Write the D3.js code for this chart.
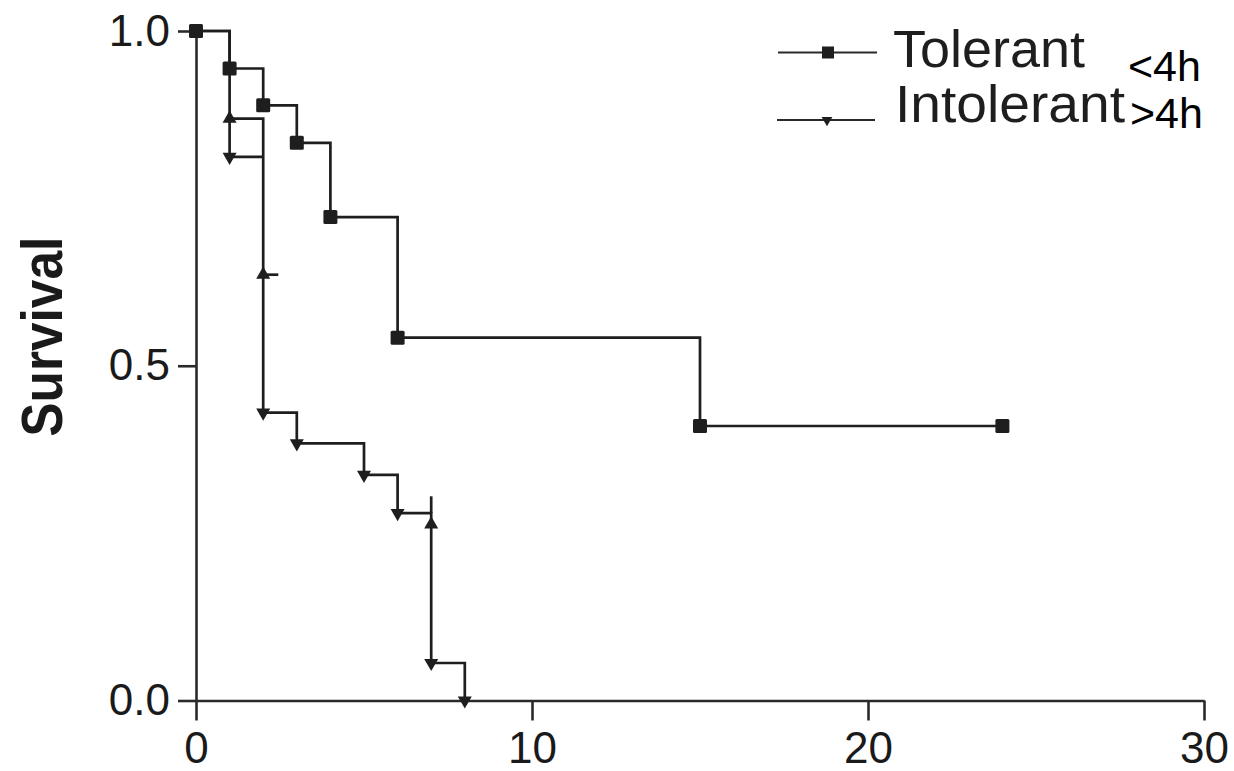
<!DOCTYPE html>
<html>
<head>
<meta charset="utf-8">
<script src="https://cdn.jsdelivr.net/npm/d3@7/dist/d3.min.js"></script>
<style>
  html, body { margin: 0; padding: 0; background: #fff; }
  svg { display: block; }
</style>
</head>
<body>
<svg id="chart" width="1234" height="771"></svg>
<script>
// ---- data ----
const xTicks = [0, 10, 20, 30];
const yTicks = [0.0, 0.5, 1.0];

const tolerantTime = [0, 1, 2, 3, 4, 6, 15, 24];
const tolerantSurv = [1.0, 0.944, 0.889, 0.833, 0.722, 0.542, 0.41, 0.41];

const intolerantTime = [0, 1, 2, 3, 5, 6, 7, 8];
const intolerantSurv = [1.0, 0.869, 0.430, 0.384, 0.337, 0.280, 0.056, 0.0];

// extra drawn segments of the intolerant curve (second branch and stubs)
const intolerantExtra = [
  [[1, 0.869], [1, 0.812], [2, 0.812]],
  [[2, 0.636], [2.45, 0.636]],
  [[7, 0.280], [7, 0.305]]
];
const intolerantUp = [[1, 0.869], [2, 0.636], [7, 0.263]];
const intolerantDown = [[1, 0.812], [2, 0.430], [3, 0.384], [5, 0.337], [6, 0.280], [7, 0.056], [8, 0.0]];

const legendLabels = ["Tolerant", "Intolerant"];
const legendNotes = ["<4h", ">4h"];
const yLabel = "Survival";

// ---- drawing ----
const svg = d3.select("#chart");
const ink = "#1e1e1e";
const font = "'Liberation Sans', Arial, sans-serif";

const x = d3.scaleLinear().domain([0, 30]).range([196, 1204]);
const y = d3.scaleLinear().domain([0, 1]).range([700.5, 31]);

// axes
const xAxis = svg.append("g").attr("transform", `translate(0,${y(0)})`)
  .call(d3.axisBottom(x).tickValues(xTicks).tickFormat(d3.format("d"))
        .tickSize(20).tickSizeOuter(0).tickPadding(11));
const yAxis = svg.append("g").attr("transform", `translate(${x(0)},0)`)
  .call(d3.axisLeft(y).tickValues(yTicks).tickFormat(d3.format(".1f"))
        .tickSize(18).tickSizeOuter(0).tickPadding(8));
[xAxis, yAxis].forEach(g => {
  g.selectAll("path, line").attr("stroke", "#2a2a2a").attr("stroke-width", 2.6);
  g.selectAll("text").attr("fill", "#1a1a1a").style("font-family", font).style("font-size", "44px");
});

// y label
svg.append("text")
  .attr("transform", `translate(61.5,${336.7}) rotate(-90)`)
  .attr("text-anchor", "middle")
  .attr("textLength", 200).attr("lengthAdjust", "spacingAndGlyphs")
  .style("font-family", font).style("font-size", "58px").style("font-weight", "bold")
  .attr("fill", "#1a1a1a")
  .text(yLabel);

// curves
const stepLine = d3.line().x(d => x(d[0])).y(d => y(d[1])).curve(d3.curveStepAfter);
const plainLine = d3.line().x(d => x(d[0])).y(d => y(d[1]));

const tolerantPts = tolerantTime.map((t, i) => [t, tolerantSurv[i]]);
const intolerantPts = intolerantTime.map((t, i) => [t, intolerantSurv[i]]);

svg.append("path").attr("d", stepLine(tolerantPts))
  .attr("fill", "none").attr("stroke", ink).attr("stroke-width", 2.7);
svg.append("path").attr("d", stepLine(intolerantPts))
  .attr("fill", "none").attr("stroke", ink).attr("stroke-width", 2.7);
intolerantExtra.forEach(seg => {
  svg.append("path").attr("d", plainLine(seg))
    .attr("fill", "none").attr("stroke", ink).attr("stroke-width", 2.7);
});

// markers
svg.selectAll(".sq").data(tolerantPts).join("rect")
  .attr("x", d => x(d[0]) - 7).attr("y", d => y(d[1]) - 7)
  .attr("width", 14).attr("height", 14).attr("rx", 1.5).attr("fill", ink);

const tri = d3.symbol().type(d3.symbolTriangle).size(85);
svg.selectAll(".up").data(intolerantUp).join("path")
  .attr("d", tri).attr("fill", ink)
  .attr("transform", d => `translate(${x(d[0])},${y(d[1])})`);
svg.selectAll(".down").data(intolerantDown).join("path")
  .attr("d", tri).attr("fill", ink)
  .attr("transform", d => `translate(${x(d[0])},${y(d[1])}) rotate(180)`);

// legend
const leg = svg.append("g");
const legRows = [
  { y: 52.5, x0: 778, x1: 877, mx: 828, tx: 893, ty: 66.7, len: 192, nx: 1128, ny: 81 },
  { y: 120, x0: 777, x1: 875, mx: 827, tx: 895, ty: 121.7, len: 230, nx: 1130, ny: 127.5 }
];
legRows.forEach((r, i) => {
  leg.append("line").attr("x1", r.x0).attr("x2", r.x1).attr("y1", r.y).attr("y2", r.y)
    .attr("stroke", "#2a2a2a").attr("stroke-width", 2.2);
  if (i === 0) {
    leg.append("rect").attr("x", r.mx - 6).attr("y", r.y - 6).attr("width", 12).attr("height", 12).attr("fill", ink);
  } else {
    leg.append("path").attr("d", d3.symbol().type(d3.symbolTriangle).size(50))
      .attr("transform", `translate(${r.mx},${r.y}) rotate(180)`).attr("fill", ink);
  }
  leg.append("text").attr("x", r.tx).attr("y", r.ty)
    .attr("textLength", r.len).attr("lengthAdjust", "spacingAndGlyphs")
    .style("font-family", font).style("font-size", "51px").attr("fill", "#1e1e1e")
    .text(legendLabels[i]);
  leg.append("text").attr("x", r.nx).attr("y", r.ny)
    .style("font-family", font).style("font-size", "43px").attr("fill", "#000")
    .text(legendNotes[i]);
});
</script>
</body>
</html>
